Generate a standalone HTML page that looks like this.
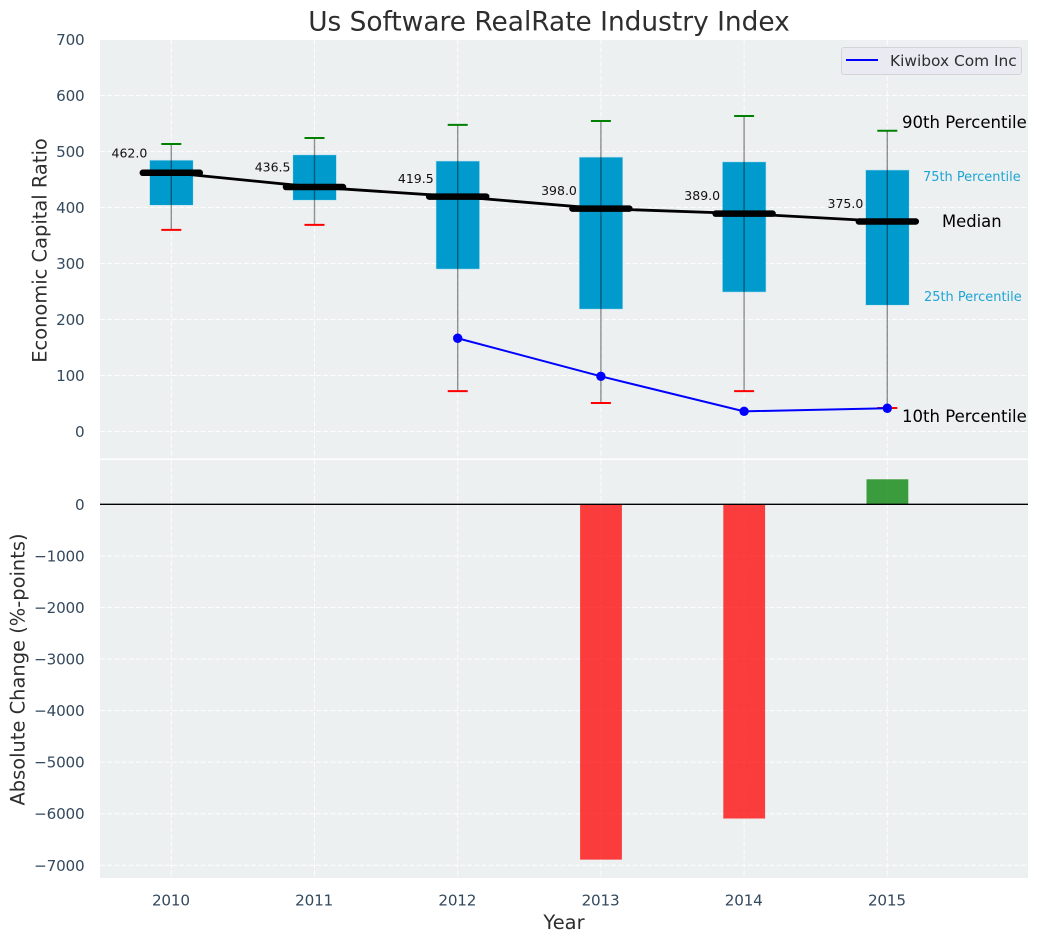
<!DOCTYPE html>
<html>
<head>
<meta charset="utf-8">
<title>Us Software RealRate Industry Index</title>
<style>
html,body{margin:0;padding:0;background:#fff;width:1039px;height:942px;overflow:hidden}
svg{display:block;font-family:"DejaVu Sans","Liberation Sans",sans-serif}
</style>
</head>
<body>
<svg id="chart" xmlns="http://www.w3.org/2000/svg" width="1039" height="942" viewBox="0 0 1039 942"></svg>
<script>
const years = [2010, 2011, 2012, 2013, 2014, 2015];
const p90 = [513.5, 524, 547.5, 554.5, 563.5, 537];
const p75 = [484.5, 494, 483, 490, 481.5, 467];
const medians = [462.0, 436.5, 419.5, 398.0, 389.0, 375.0];
const p25 = [404, 413, 290, 218.5, 249, 225.5];
const p10 = [360, 369, 72, 51, 72, 42];
const companyYears = [2012, 2013, 2014, 2015];
const companyValues = [166.5, 98.5, 36, 41.5];
const changeYears = [2013, 2014, 2015];
const changeValues = [-6890, -6093, 485];
const topTicks = [0, 100, 200, 300, 400, 500, 600, 700];
const bottomTicks = [0, -1000, -2000, -3000, -4000, -5000, -6000, -7000];

const NS = 'http://www.w3.org/2000/svg';
const svg = document.getElementById('chart');
const L = 100, R = 1028, T1 = 40, B1 = 458.5, T2 = 460, B2 = 878;
const xS = v => 171.3 + (v - 2010) * 143.2;
const yTop = v => 431.5 - v * 0.56;
const yBot = v => 504.3 - v * 0.05157;

function mk(tag, attrs, parent, text) {
  const el = document.createElementNS(NS, tag);
  for (const k in attrs) el.setAttribute(k, attrs[k]);
  if (text !== undefined) el.textContent = text;
  (parent || svg).appendChild(el);
  return el;
}
function fmt(n) { return n < 0 ? '\u2212' + Math.abs(n) : String(n); }
function named(el, name) {
  
  
  return el;
}

const defs = mk('defs', {});
const cp1 = mk('clipPath', { id: 'clip-top' }, defs);
mk('rect', { x: L, y: T1, width: R - L, height: B1 - T1 }, cp1);
const cp2 = mk('clipPath', { id: 'clip-bot' }, defs);
mk('rect', { x: L, y: T2, width: R - L, height: B2 - T2 }, cp2);

named(mk('text', { x: 549, y: 30.5, 'text-anchor': 'middle', 'font-size': 26.4, fill: '#2e2e2e' }, svg, 'Us Software RealRate Industry Index'), 'chart-title');

named(mk('rect', { x: L, y: T1, width: R - L, height: B1 - T1, fill: '#ecf0f1' }), 'top-panel-background');
named(mk('rect', { x: L, y: T2, width: R - L, height: B2 - T2, fill: '#ecf0f1' }), 'bottom-panel-background');

const gridStyle = { stroke: '#fff', 'stroke-width': 1, 'stroke-dasharray': '5 2.2', opacity: 0.9 };
const tickStyle = { 'font-size': 15.2, 'letter-spacing': '-0.2px', fill: '#34495e' };
function grid(x1, y1, x2, y2, name) {
  const line = mk('line', Object.assign({ x1, y1, x2, y2 }, gridStyle));
  named(line, name);
}
years.forEach(y => {
  grid(xS(y), T1, xS(y), B1, 'top-x-gridline');
  grid(xS(y), T2, xS(y), B2, 'bottom-x-gridline');
});
topTicks.forEach(t => {
  grid(L, yTop(t), R, yTop(t), 'top-y-gridline');
  named(mk('text', Object.assign({ x: 84.5, y: yTop(t) + 5.5, 'text-anchor': 'end' }, tickStyle), svg, fmt(t)), 'top-y-tick-label');
});
bottomTicks.forEach(t => {
  grid(L, yBot(t), R, yBot(t), 'bottom-y-gridline');
  named(mk('text', Object.assign({ x: 84.5, y: yBot(t) + 5.5, 'text-anchor': 'end' }, tickStyle), svg, fmt(t)), 'bottom-y-tick-label');
});
years.forEach(y => {
  named(mk('text', Object.assign({ x: xS(y) - 0.4, y: 905.5, 'text-anchor': 'middle' }, tickStyle), svg, String(y)), 'x-tick-label');
});

named(mk('text', { transform: 'translate(46.5,250.5) rotate(-90)', 'text-anchor': 'middle', 'font-size': 19.45, fill: '#2e2e2e' }, svg, 'Economic Capital Ratio'), 'top-y-axis-title');
named(mk('text', { transform: 'translate(24.5,669.5) rotate(-90)', 'text-anchor': 'middle', 'font-size': 19.45, fill: '#2e2e2e' }, svg, 'Absolute Change (%-points)'), 'bottom-y-axis-title');
named(mk('text', { x: 564, y: 929, 'text-anchor': 'middle', 'font-size': 19.45, fill: '#2e2e2e' }, svg, 'Year'), 'x-axis-title');

const topPlot = mk('g', { 'clip-path': 'url(#clip-top)' });
named(topPlot, 'top-panel-plot');
const botPlot = mk('g', { 'clip-path': 'url(#clip-bot)' });
named(botPlot, 'bottom-panel-plot');

years.forEach((y, i) => {
  const cx = xS(y);
  const box = mk('rect', { x: cx - 21.7, y: yTop(p75[i]), width: 43.6, height: yTop(p25[i]) - yTop(p75[i]), fill: '#009ACD', stroke: '#bfe3f0', 'stroke-width': 0.6 }, topPlot);
  
  
});
named(mk('polyline', {
  points: years.map((y, i) => xS(y) + ',' + yTop(medians[i])).join(' '),
  fill: 'none', stroke: '#000', 'stroke-width': 2.8
}, topPlot), 'median-trend-line');
years.forEach((y, i) => {
  const cx = xS(y);
  const whisker = mk('line', { x1: cx, x2: cx, y1: yTop(p90[i]), y2: yTop(p10[i]), stroke: '#000', 'stroke-opacity': 0.42, 'stroke-width': 1.4 }, topPlot);
  
  
  const capHigh = mk('line', { x1: cx - 10, x2: cx + 10, y1: yTop(p90[i]), y2: yTop(p90[i]), stroke: '#008000', 'stroke-width': 2 }, topPlot);
  
  
  const capLow = mk('line', { x1: cx - 10, x2: cx + 10, y1: yTop(p10[i]), y2: yTop(p10[i]), stroke: '#ff0000', 'stroke-width': 2 }, topPlot);
  
  
  const med = mk('line', { x1: cx - 28.5, x2: cx + 28.5, y1: yTop(medians[i]), y2: yTop(medians[i]), stroke: '#000', 'stroke-width': 6.5, 'stroke-linecap': 'round' }, topPlot);
  
  
  const lift = medians[i] > 430 ? 15.5 : 13.7;
  const lbl = mk('text', { x: cx - 24, y: yTop(medians[i]) - lift, 'text-anchor': 'end', 'font-size': 12.5, fill: '#111' }, svg, medians[i].toFixed(1));
  
  
});

named(mk('polyline', {
  points: companyYears.map((y, i) => xS(y) + ',' + yTop(companyValues[i])).join(' '),
  fill: 'none', stroke: '#0000ff', 'stroke-width': 2
}, topPlot), 'kiwibox-line');
companyYears.forEach((y, i) => {
  const pt = mk('circle', { cx: xS(y), cy: yTop(companyValues[i]), r: 4.7, fill: '#0000ff' }, topPlot);
  
  
});

changeYears.forEach((y, i) => {
  const v = changeValues[i];
  const a = yBot(Math.max(v, 0)), b = yBot(Math.min(v, 0));
  const bar = mk('rect', { x: xS(y) - 20.8, y: a, width: 41.8, height: b - a, fill: v < 0 ? '#ff0000' : '#008000', 'fill-opacity': 0.75 }, botPlot);
  
  
});
named(mk('line', { x1: L, x2: R, y1: yBot(0), y2: yBot(0), stroke: '#000', 'stroke-width': 1.3 }), 'zero-line');

named(mk('text', { x: 902, y: 128, 'font-size': 16.55, fill: '#000' }, svg, '90th Percentile'), 'p90-annotation');
named(mk('text', { x: 923, y: 181, 'font-size': 12.95, fill: '#1fa5d3' }, svg, '75th Percentile'), 'p75-annotation');
named(mk('text', { x: 942, y: 227, 'font-size': 16.4, fill: '#000' }, svg, 'Median'), 'median-annotation');
named(mk('text', { x: 924, y: 301, 'font-size': 12.95, fill: '#1fa5d3' }, svg, '25th Percentile'), 'p25-annotation');
named(mk('text', { x: 902, y: 422, 'font-size': 16.55, fill: '#000' }, svg, '10th Percentile'), 'p10-annotation');

const legend = mk('g', {});
named(legend, 'legend');
named(mk('rect', { x: 841.5, y: 47.5, width: 180, height: 27, rx: 2.5, fill: '#eaeaf2', stroke: '#d4d4d8', 'stroke-width': 1 }, legend), 'legend-frame');
named(mk('line', { x1: 846, x2: 878, y1: 60, y2: 60, stroke: '#0000ff', 'stroke-width': 2 }, legend), 'legend-line');
named(mk('text', { x: 890, y: 66, 'font-size': 15.4, fill: '#2e2e2e' }, legend, 'Kiwibox Com Inc'), 'legend-label');
</script>
</body>
</html>
